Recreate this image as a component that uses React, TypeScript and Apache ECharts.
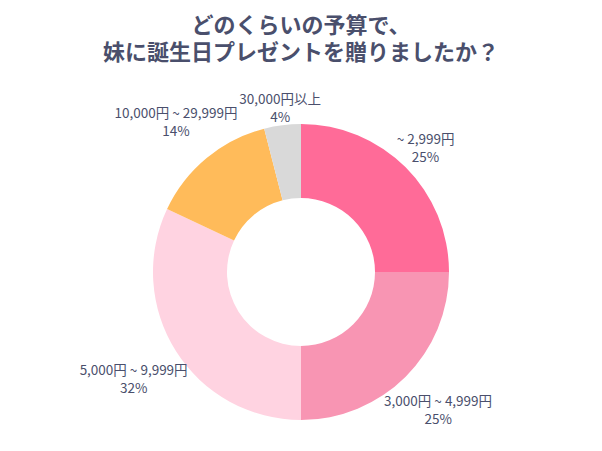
import React, { useEffect, useRef } from "react";
import * as echarts from "echarts";

// 予算カテゴリと割合
const categories = ["~ 2,999円", "3,000円 ~ 4,999円", "5,000円 ~ 9,999円", "10,000円 ~ 29,999円", "30,000円以上"];
const values = [25, 25, 32, 14, 4];
const colors = ["#FF6B98", "#F895B3", "#FFD3E1", "#FFBB5A", "#D9D9D9"];

const titleLines = ["どのくらいの予算で、", "妹に誕生日プレゼントを贈りましたか？"];
const textColor = "#4A4F6C";

// body margin 8px ぶんずらした中心
const CENTER = [293, 264];
const INNER = 74;
const OUTER = 148;

const App: React.FC = () => {
  const chartRef = useRef<HTMLDivElement>(null);

  useEffect(() => {
    if (!chartRef.current) return;
    const chart = echarts.init(chartRef.current, null, { renderer: "svg" });
    chart.setOption({
      animation: false,
      title: titleLines.map((text, i) => ({
        text,
        left: "center",
        top: -4 + i * 27,
        textStyle: {
          fontFamily: "Noto Sans CJK JP",
          fontSize: 22,
          fontWeight: "bold",
          color: textColor,
          lineHeight: 27,
        },
      })),
      series: [
        {
          type: "pie",
          center: CENTER,
          radius: [INNER, OUTER],
          startAngle: 90,
          clockwise: true,
          avoidLabelOverlap: false,
          label: {
            show: true,
            position: "inside",
            formatter: "{b}\n{d}%",
            color: textColor,
            fontFamily: "Noto Sans CJK JP",
            fontSize: 13.5,
            lineHeight: 18,
          },
          labelLine: { show: false },
          // 内側ラベルを扇の中心角方向へ、円の外側まで押し出す
          labelLayout: (params: any) => {
            const r = params.labelRect;
            const lx = r.x + r.width / 2 - CENTER[0];
            const ly = r.y + r.height / 2 - CENTER[1];
            const len = Math.sqrt(lx * lx + ly * ly) || 1;
            const ux = lx / len;
            const uy = ly / len;
            const d = Math.abs(ux) * r.width / 2 + Math.abs(uy) * r.height / 2 - 5;
            return {
              x: CENTER[0] + ux * (OUTER + d),
              y: CENTER[1] + uy * (OUTER + d),
              align: "center",
              verticalAlign: "middle",
            };
          },
          data: categories.map((name, i) => ({
            name,
            value: values[i],
            itemStyle: { color: colors[i] },
          })),
        },
      ],
    });
    return () => {
      chart.dispose();
    };
  }, []);

  return <div ref={chartRef} style={{ width: 586, height: 435 }} />;
};

export default App;
